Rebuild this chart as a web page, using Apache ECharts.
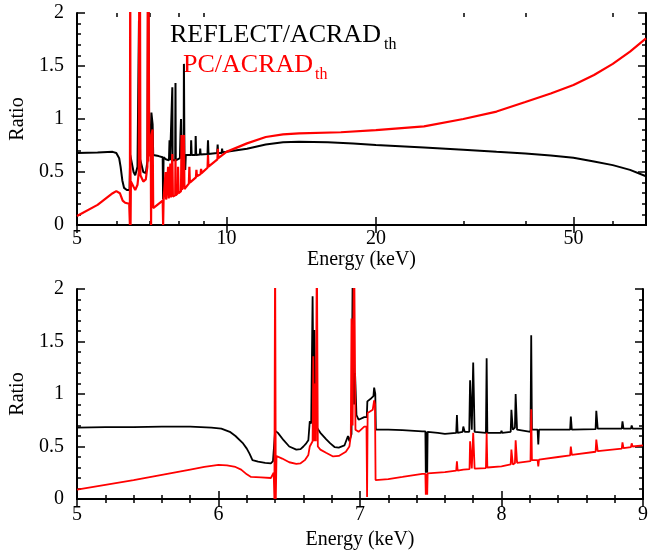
<!DOCTYPE html>
<html>
<head>
<meta charset="utf-8">
<script src="https://cdn.jsdelivr.net/npm/echarts@6/dist/echarts.min.js"></script>
<style>html,body{margin:0;padding:0;background:#fff}#c{width:660px;height:551px}</style>
</head>
<body>
<div id="c"></div>
<script>
// ---- data (energy keV, ratio) ----
const majorTicksWide = [5, 10, 20, 50];
const minorTicksWide = [6, 7, 8, 9, 30, 40, 60];
const reflectLabel = 'REFLECT/ACRAD';
const pcLabel = 'PC/ACRAD';
const subLabel = 'th';

// top panel, REFLECT/ACRAD_th (black)
const reflectWide = [[5,0.68],[5.5,0.685],[5.9,0.69],[6.0,0.68],[6.08,0.63],[6.12,0.55],[6.17,0.42],[6.22,0.35],[6.3,0.33],[6.38,0.33],
[6.40,0.66],[6.5,0.5],[6.55,0.47],[6.62,0.55],[6.665,1.93],[6.672,0.9],[6.68,1.6],[6.70,0.62],[6.8,0.5],[6.88,0.49],[6.93,0.6],[6.955,2.5],[6.99,0.75],
[7.04,0.8],[7.06,1.06],[7.1,0.95],[7.12,0.66],[7.3,0.65],[7.44,0.64],[7.455,0.24],[7.47,0.64],[7.55,0.62],[7.66,0.61],[7.68,0.8],[7.70,0.61],
[7.77,0.61],[7.78,1.3],[7.79,0.61],[7.885,0.61],[7.895,1.34],[7.905,0.61],[8.06,0.63],[8.08,0.85],[8.1,1.0],[8.12,0.63],[8.2,0.63],[8.21,1.52],
[8.23,0.64],[8.26,0.52],[8.28,0.66],[8.48,0.66],[8.49,0.8],[8.51,0.66],[8.66,0.66],[8.67,0.84],[8.69,0.66],[8.84,0.665],[8.855,0.72],[8.87,0.665],
[9.16,0.67],[9.18,0.8],[9.2,0.67],[9.58,0.68],[9.6,0.76],[9.62,0.68],[9.78,0.68],[9.8,0.72],[9.82,0.685],[10,0.69],[11,0.72],[12,0.76],[13,0.78],
[14,0.785],[16,0.78],[18,0.77],[20,0.755],[25,0.73],[30,0.71],[35,0.69],[40,0.675],[45,0.655],[50,0.635],[55,0.6],[60,0.565],[65,0.52],[70,0.46]];

// top panel, PC/ACRAD_th (red)
const pcWide = [[5,0.085],[5.5,0.19],[5.9,0.3],[6.0,0.32],[6.1,0.3],[6.18,0.23],[6.25,0.21],[6.37,0.2],[6.39,0],[6.40,2.5],[6.41,0],[6.42,0.41],
[6.5,0.36],[6.55,0.33],[6.62,0.38],[6.66,0.5],[6.675,2.5],[6.685,0.5],[6.695,2.5],[6.71,0.47],[6.8,0.41],[6.88,0.43],[6.93,0.55],[6.945,2.5],[6.955,0.6],[6.965,2.5],[6.99,0.65],
[7.04,0.7],[7.05,0],[7.06,0.85],[7.1,0.9],[7.12,0.16],[7.3,0.2],[7.44,0.23],[7.455,0],[7.47,0.23],[7.52,0.235],[7.54,0.5],[7.56,0.24],
[7.62,0.25],[7.63,0.55],[7.65,0.25],[7.7,0.26],[7.71,0.58],[7.73,0.26],[7.77,0.27],[7.78,0.67],[7.8,0.27],[7.885,0.28],[7.895,0.62],[7.905,0.28],
[7.98,0.3],[7.99,0.55],[8.01,0.3],[8.1,0.32],[8.12,0.85],[8.14,0.33],[8.2,0.34],[8.21,0.85],[8.23,0.34],[8.4,0.39],[8.42,0.55],[8.44,0.4],
[8.68,0.45],[8.7,0.52],[8.72,0.46],[8.87,0.48],[8.89,0.53],[8.91,0.49],[9.16,0.54],[9.18,0.66],[9.2,0.55],[9.59,0.62],[9.61,0.72],[9.63,0.63],
[10,0.69],[11,0.77],[12,0.83],[13,0.855],[14,0.865],[17,0.875],[20,0.895],[25,0.93],[30,1.0],[35,1.07],[40,1.16],[45,1.24],[50,1.32],[55,1.415],
[60,1.52],[65,1.635],[70,1.76]];

// bottom panel, REFLECT/ACRAD_th (black)
const reflectZoom = [[5.0,0.68],[5.2,0.685],[5.4,0.685],[5.6,0.69],[5.8,0.69],[5.95,0.68],[6.02,0.67],[6.08,0.64],[6.12,0.6],[6.17,0.535],
[6.2,0.48],[6.22,0.43],[6.24,0.37],[6.28,0.355],[6.33,0.345],[6.37,0.34],[6.385,0.36],[6.398,0.35],[6.40,0.65],[6.42,0.63],[6.46,0.56],
[6.5,0.5],[6.55,0.47],[6.58,0.475],[6.6,0.5],[6.62,0.53],[6.635,0.56],[6.645,0.74],[6.655,0.72],[6.665,1.93],[6.672,0.9],[6.678,1.61],
[6.685,0.8],[6.695,0.68],[6.72,0.63],[6.76,0.57],[6.79,0.53],[6.82,0.495],[6.85,0.49],[6.89,0.51],[6.915,0.6],[6.925,0.55],[6.94,0.62],
[6.95,2.5],[6.958,0.9],[6.965,1.2],[6.975,0.8],[6.99,0.755],[7.03,0.78],[7.048,0.78],[7.052,0.93],[7.08,0.96],[7.095,0.98],[7.1,1.06],
[7.108,1.0],[7.112,0.66],[7.2,0.66],[7.3,0.655],[7.44,0.645],[7.462,0.645],[7.465,0.25],[7.47,0.64],[7.475,0.25],[7.478,0.64],[7.55,0.63],
[7.6,0.62],[7.68,0.63],[7.685,0.8],[7.69,0.63],[7.725,0.64],[7.73,0.69],[7.74,0.64],[7.772,0.64],[7.778,1.13],[7.79,0.66],[7.80,1.30],
[7.81,0.64],[7.89,0.63],[7.895,1.34],[7.90,0.63],[7.995,0.63],[8.0,0.65],[8.005,0.63],[8.065,0.64],[8.07,0.85],[8.08,0.66],[8.095,0.68],
[8.1,1.0],[8.11,0.66],[8.205,0.64],[8.21,1.56],[8.215,0.66],[8.255,0.66],[8.26,0.52],[8.265,0.66],[8.4,0.66],[8.485,0.66],[8.49,0.785],
[8.497,0.66],[8.665,0.665],[8.67,0.84],[8.68,0.67],[8.85,0.67],[8.855,0.74],[8.862,0.67],[8.915,0.67],[8.92,0.70],[8.927,0.67],[9.0,0.67]];

// bottom panel, PC/ACRAD_th (red)
const pcZoom = [[5.0,0.09],[5.2,0.135],[5.4,0.18],[5.6,0.23],[5.8,0.28],[5.9,0.305],[6.0,0.325],[6.06,0.32],[6.12,0.305],[6.16,0.28],
[6.2,0.235],[6.23,0.21],[6.3,0.205],[6.37,0.2],[6.39,0.25],[6.395,0.0],[6.40,2.5],[6.405,0.0],[6.41,0.41],[6.45,0.385],[6.5,0.35],
[6.55,0.335],[6.58,0.34],[6.61,0.37],[6.635,0.42],[6.645,0.5],[6.655,0.5],[6.665,0.55],[6.67,1.36],[6.675,0.55],[6.68,1.1],[6.688,0.55],
[6.695,2.5],[6.702,0.5],[6.72,0.47],[6.76,0.44],[6.81,0.405],[6.85,0.41],[6.9,0.45],[6.925,0.5],[6.935,0.6],[6.94,1.72],[6.948,0.7],
[6.958,2.5],[6.968,0.66],[6.99,0.64],[7.03,0.69],[7.046,0.69],[7.05,0.02],[7.054,0.82],[7.09,0.85],[7.1,0.94],[7.106,0.9],[7.11,0.18],
[7.2,0.19],[7.3,0.21],[7.44,0.24],[7.462,0.24],[7.465,0.04],[7.47,0.24],[7.475,0.04],[7.478,0.245],[7.6,0.255],[7.68,0.27],[7.685,0.36],
[7.69,0.27],[7.73,0.28],[7.774,0.285],[7.778,0.55],[7.79,0.29],[7.8,0.63],[7.81,0.29],[7.89,0.295],[7.895,0.63],[7.90,0.30],[8.0,0.31],
[8.065,0.33],[8.07,0.47],[8.08,0.33],[8.095,0.34],[8.1,0.56],[8.11,0.345],[8.205,0.36],[8.21,0.855],[8.215,0.37],[8.255,0.37],[8.26,0.31],
[8.265,0.375],[8.4,0.4],[8.485,0.415],[8.49,0.5],[8.497,0.42],[8.665,0.45],[8.67,0.565],[8.68,0.455],[8.85,0.48],[8.855,0.54],[8.862,0.485],
[8.915,0.495],[8.92,0.53],[8.927,0.5],[9.0,0.51]];

// ---- chart ----
const FONT = "'Liberation Serif','Times New Roman',serif";
const chart = echarts.init(document.getElementById('c'), null, {renderer: 'canvas'});
const axLine = {show: true, lineStyle: {color: '#000', width: 2}};
const lbl = {color: '#000', fontSize: 20, fontFamily: FONT};
const yCommon = (grid, pos, showLabel, name) => ({
  gridIndex: grid, type: 'value', position: pos, min: 0, max: 2, interval: 0.5,
  axisLine: axLine, splitLine: {show: false},
  axisTick: {show: true, inside: true, length: 8, lineStyle: {color: '#000', width: 1.5}},
  minorTick: {show: true, splitNumber: 5, length: 4, lineStyle: {color: '#000', width: 1.5}},
  axisLabel: Object.assign({show: showLabel, margin: 13}, lbl),
  name: name || '', nameLocation: 'middle', nameGap: 46, nameRotate: 90,
  nameTextStyle: {color: '#000', fontSize: 20, fontFamily: FONT}
});
const logX = (grid, pos, ticks, len, showLabel, showLine, name) => ({
  gridIndex: grid, type: 'log', logBase: 10, position: pos, min: 5, max: 70,
  axisLine: showLine ? axLine : {show: false}, splitLine: {show: false},
  axisTick: {show: true, inside: true, length: len, customValues: ticks, lineStyle: {color: '#000', width: 1.5}},
  minorTick: {show: false},
  axisLabel: Object.assign({show: showLabel, margin: 4, customValues: ticks}, lbl),
  name: name || '', nameLocation: 'middle', nameGap: 24,
  nameTextStyle: {color: '#000', fontSize: 20, fontFamily: FONT}
});
const linX = (grid, pos, showLabel, name) => ({
  gridIndex: grid, type: 'value', position: pos, min: 5, max: 9, interval: 1,
  axisLine: axLine, splitLine: {show: false},
  axisTick: {show: true, inside: true, length: 8, lineStyle: {color: '#000', width: 1.5}},
  minorTick: {show: true, splitNumber: 5, length: 4, lineStyle: {color: '#000', width: 1.5}},
  axisLabel: Object.assign({show: showLabel, margin: 6}, lbl),
  name: name || '', nameLocation: 'middle', nameGap: 31,
  nameTextStyle: {color: '#000', fontSize: 20, fontFamily: FONT}
});

const option = {
  animation: false,
  backgroundColor: '#fff',
  grid: [
    {left: 77, top: 13, width: 569, height: 212},
    {left: 77, top: 13, width: 569, height: 212},
    {left: 77, top: 289, width: 566, height: 210}
  ],
  xAxis: [
    logX(0, 'bottom', majorTicksWide, 8, true, true, 'Energy (keV)'),
    logX(0, 'top', majorTicksWide, 8, false, true),
    logX(1, 'bottom', minorTicksWide, 4, false, false),
    logX(1, 'top', minorTicksWide, 4, false, false),
    linX(2, 'bottom', true, 'Energy (keV)'),
    linX(2, 'top', false)
  ],
  yAxis: [
    yCommon(0, 'left', true, 'Ratio'),
    yCommon(0, 'right', false),
    {gridIndex: 1, type: 'value', min: 0, max: 2, show: false},
    yCommon(2, 'left', true, 'Ratio'),
    yCommon(2, 'right', false)
  ],
  series: [
    {type: 'line', xAxisIndex: 0, yAxisIndex: 0, data: reflectWide, symbol: 'none', lineStyle: {color: '#000', width: 2}},
    {type: 'line', xAxisIndex: 0, yAxisIndex: 0, data: pcWide, symbol: 'none', lineStyle: {color: '#ff0000', width: 2.2}},
    {type: 'line', xAxisIndex: 4, yAxisIndex: 3, data: reflectZoom, symbol: 'none', lineStyle: {color: '#000', width: 1.8}},
    {type: 'line', xAxisIndex: 4, yAxisIndex: 3, data: pcZoom, symbol: 'none', lineStyle: {color: '#ff0000', width: 1.8}}
  ],
  graphic: [
    {type: 'text', x: 170, y: 22, style: {text: reflectLabel, fill: '#000', font: '26px ' + FONT, textVerticalAlign: 'top'}},
    {type: 'text', x: 384, y: 37, style: {text: subLabel, fill: '#000', font: '16px ' + FONT, textVerticalAlign: 'top'}},
    {type: 'text', x: 183, y: 52, style: {text: pcLabel, fill: '#ff0000', font: '26px ' + FONT, textVerticalAlign: 'top'}},
    {type: 'text', x: 315, y: 67, style: {text: subLabel, fill: '#ff0000', font: '16px ' + FONT, textVerticalAlign: 'top'}}
  ]
};
chart.setOption(option);
</script>
</body>
</html>
